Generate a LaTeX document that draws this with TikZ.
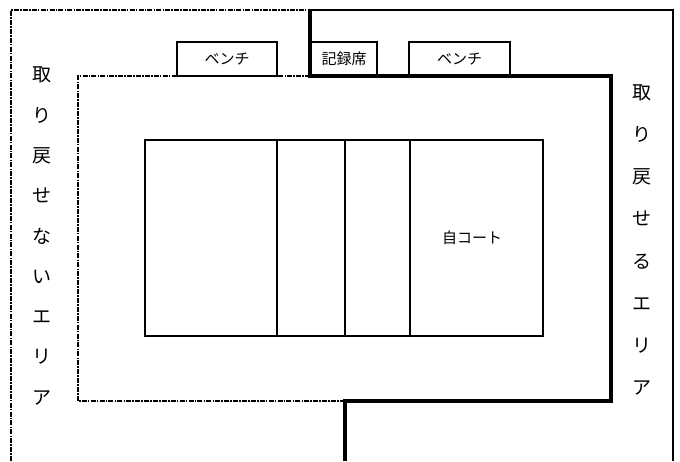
\documentclass[tikz,border=0pt]{standalone}
\usepackage{fontspec}
\newfontfamily\jp{Noto Sans CJK JP}

\begin{document}
\begin{tikzpicture}[x=1pt,y=-1pt,
    dashdot line/.style={line width=1.6pt, dash pattern=on 5pt off 1.2pt on 1.5pt off 1.2pt},
    bold line/.style={line width=3.5pt},
    thin line/.style={line width=1.2pt},
    bench box/.style={draw, fill=white, line width=1.2pt, minimum height=34pt, inner sep=0pt, font=\jp\fontsize{15}{15}\selectfont},
    area text/.style={font=\jp\fontsize{19}{40.3}\selectfont, align=center, inner sep=0pt}]
  \useasboundingbox (0,0) rectangle (680,461);

  % split lines
  \def\xs{310} % top split
  \def\xb{345} % bottom split

  % area not recoverable (left) dash-dot
  \draw[dashdot line] (11,461) -- (11,10) -- (\xs,10);
  \draw[dashdot line] (\xs,76) -- (78,76) -- (78,401) -- (\xb,401);

  % area recoverable (right) outer
  \draw[line width=1.6pt] (\xs,10) -- (673,10) -- (673,461);
  \draw[bold line] (\xs,10) -- (\xs,76) -- (611,76) -- (611,401) -- (\xb,401) -- (\xb,461);

  % court
  \draw[thin line] (145,140) rectangle (543,336);
  \draw[line width=1.8pt] (277,140) -- (277,336);
  \draw[thin line] (345,140) -- (345,336);
  \draw[thin line] (410,140) -- (410,336);
  \node[font=\jp\fontsize{15}{15}\selectfont] (own) at (472,238) {自コート};

  % benches and record table
  \node[bench box, minimum width=100pt] (bench1) at (227,59) {ベンチ};
  \node[bench box, minimum width=66pt] (record) at (344,59) {記録席};
  \node[bench box, minimum width=101pt] (bench2) at (459.5,59) {ベンチ};
  \draw[bold line] (\xs,76) -- (611,76);

  % Labels
  \node[area text] (lost) at (42,236) {取\\り\\戻\\せ\\な\\い\\エ\\リ\\ア};
  \node[area text, font=\jp\fontsize{19}{42.1}\selectfont] (back) at (642,240) {取\\り\\戻\\せ\\る\\エ\\リ\\ア};

\end{tikzpicture}
\end{document}
